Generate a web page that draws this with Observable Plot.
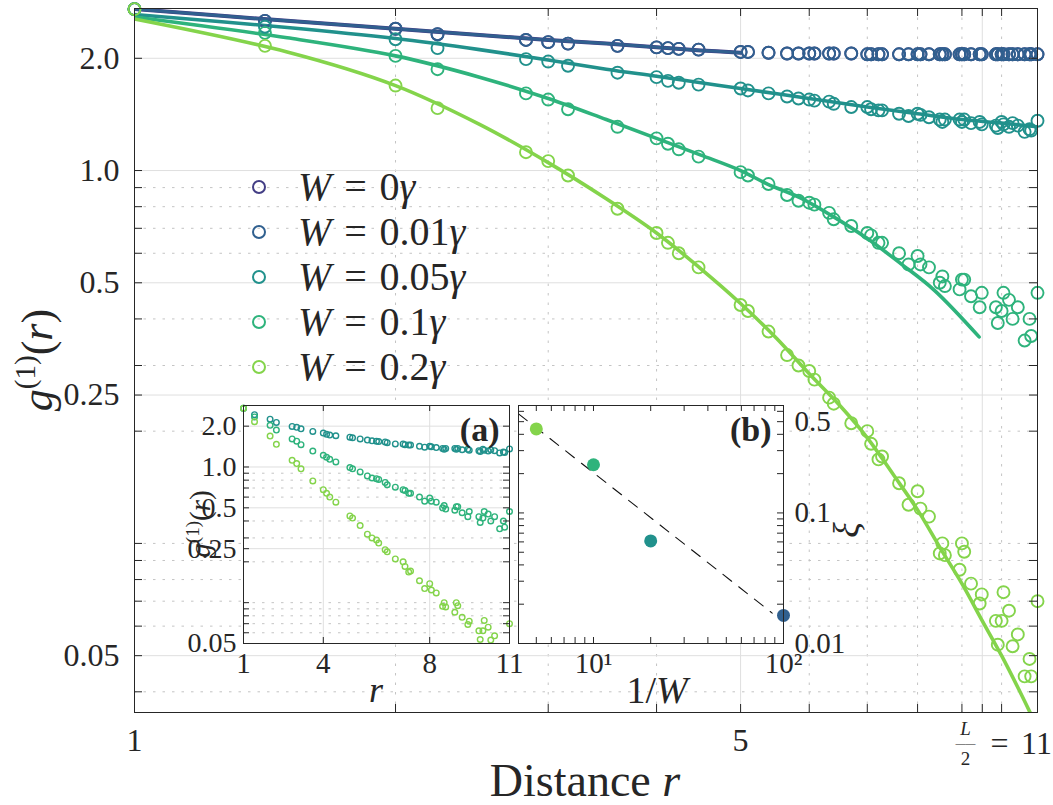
<!DOCTYPE html>
<html>
<head>
<meta charset="utf-8">
<script src="https://cdn.jsdelivr.net/npm/d3@7"></script>
<script src="https://cdn.jsdelivr.net/npm/@observablehq/plot@0.6"></script>
<style>
html,body{margin:0;padding:0;background:#fff;}
#wrap{position:relative;width:1053px;height:805px;overflow:hidden;font-family:"Liberation Serif","Times New Roman",serif;color:#262626;}
.abs{position:absolute;white-space:nowrap;line-height:1;}
.sup{font-size:0.66em;position:relative;top:-0.6em;}
.eq{margin:0 0.32em;}
</style>
</head>
<body>
<div id="wrap"></div>
<script>
// ---------------- DATA ----------------
const seriesNames  = ["0", "0.01", "0.05", "0.1", "0.2"];
const seriesColors = ["#433e85", "#30608f", "#21918c", "#2eb37c", "#84d44b"];

// lattice distances r
const rDist = [1, 1.414, 2, 2.236, 2.828, 3, 3.162, 3.606, 4, 4.123,
  4.243, 4.472, 5, 5.099, 5.385, 5.657, 5.831, 6, 6.083, 6.325,
  6.403, 6.708, 7, 7.071, 7.211, 7.280, 7.616, 7.810, 8, 8.062,
  8.246, 8.485, 8.544, 8.602, 8.944, 9, 9.055, 9.220, 9.434, 9.487,
  9.849, 9.899, 10, 10.050, 10.198, 10.296, 10.440, 10.630, 10.770, 10.817, 11];

const gW0 = [2.71, 2.52, 2.40, 2.32, 2.24, 2.21, 2.19, 2.16, 2.14, 2.13,
  2.12, 2.11, 2.08, 2.08, 2.07, 2.06, 2.06, 2.06, 2.06, 2.06,
  2.06, 2.06, 2.05, 2.05, 2.05, 2.05, 2.05, 2.05, 2.05, 2.05,
  2.05, 2.05, 2.05, 2.05, 2.05, 2.05, 2.05, 2.05, 2.05, 2.05,
  2.05, 2.05, 2.05, 2.05, 2.05, 2.05, 2.05, 2.05, 2.05, 2.05, 2.05];
const gW001 = [2.71, 2.52, 2.40, 2.32, 2.24, 2.21, 2.19, 2.16, 2.14, 2.13,
  2.12, 2.11, 2.08, 2.08, 2.07, 2.06, 2.06, 2.06, 2.06, 2.06,
  2.06, 2.06, 2.05, 2.05, 2.05, 2.05, 2.05, 2.05, 2.05, 2.05,
  2.05, 2.05, 2.05, 2.05, 2.05, 2.05, 2.05, 2.05, 2.05, 2.05,
  2.05, 2.05, 2.05, 2.05, 2.05, 2.05, 2.05, 2.05, 2.05, 2.05, 2.05];
const gW005 = [2.71, 2.43, 2.25, 2.13, 1.99, 1.96, 1.91, 1.83, 1.78, 1.74,
  1.72, 1.70, 1.66, 1.64, 1.61, 1.58, 1.56, 1.55, 1.54, 1.53,
  1.51, 1.48, 1.48, 1.46, 1.45, 1.45, 1.42, 1.40, 1.42, 1.41,
  1.39, 1.37, 1.35, 1.37, 1.37, 1.35, 1.37, 1.34, 1.35, 1.33,
  1.32, 1.30, 1.35, 1.33, 1.31, 1.34, 1.32, 1.27, 1.29, 1.28, 1.36];
const gW01 = [2.71, 2.34, 2.03, 1.87, 1.61, 1.55, 1.46, 1.31, 1.22, 1.18,
  1.14, 1.09, 0.99, 0.97, 0.92, 0.86, 0.83, 0.82, 0.81, 0.77,
  0.74, 0.71, 0.68, 0.67, 0.64, 0.64, 0.60, 0.56, 0.59, 0.56,
  0.55, 0.50, 0.52, 0.49, 0.48, 0.51, 0.51, 0.46, 0.43, 0.47,
  0.43, 0.39, 0.42, 0.47, 0.45, 0.40, 0.43, 0.35, 0.40, 0.36, 0.47];
const gW02 = [2.71, 2.16, 1.69, 1.47, 1.12, 1.06, 0.97, 0.79, 0.68, 0.64,
  0.60, 0.55, 0.436, 0.42, 0.37, 0.32, 0.30, 0.29, 0.275, 0.246,
  0.237, 0.21, 0.20, 0.185, 0.168, 0.171, 0.145, 0.127, 0.138, 0.124,
  0.118, 0.094, 0.100, 0.093, 0.085, 0.100, 0.095, 0.078, 0.069, 0.073,
  0.062, 0.0535, 0.062, 0.074, 0.066, 0.053, 0.057, 0.044, 0.049, 0.044, 0.070];

// fitted curves
const fitR_W0   = [1, 1.5, 2, 2.5, 3, 3.5, 4, 4.5, 5];
const fitG_W0   = [2.71, 2.52, 2.40, 2.31, 2.24, 2.19, 2.14, 2.10, 2.07];
const fitR_W001 = [1, 1.5, 2, 2.5, 3, 3.5, 4, 4.5, 5];
const fitG_W001 = [2.71, 2.52, 2.40, 2.31, 2.24, 2.19, 2.14, 2.10, 2.07];
const fitR_W005 = [1, 1.5, 2, 2.5, 3, 3.5, 4, 4.5, 5, 6, 7, 8, 9, 10, 11];
const fitG_W005 = [2.62, 2.42, 2.26, 2.11, 1.98, 1.87, 1.79, 1.72, 1.66, 1.56, 1.48, 1.42, 1.37, 1.34, 1.31];
const fitR_W01  = [1, 1.5, 2, 2.5, 3, 3.5, 4, 4.5, 5, 5.37, 5.86, 6.41, 7, 7.65, 8.36, 9.42];
const fitG_W01  = [2.58, 2.27, 2.03, 1.78, 1.56, 1.37, 1.22, 1.10, 1.0, 0.92, 0.845, 0.75, 0.657, 0.563, 0.478, 0.358];
const fitR_W02  = [1, 1.5, 2, 2.5, 3, 3.5, 4, 4.5, 5, 5.5, 6, 6.5, 7, 7.5, 8, 8.5, 9, 9.5, 10, 10.5, 11];
const fitG_W02  = [2.55, 2.08, 1.69, 1.33, 1.05, 0.84, 0.68, 0.545, 0.44, 0.355, 0.285, 0.235, 0.192, 0.153, 0.123, 0.097, 0.078, 0.062, 0.050, 0.040, 0.032];

// inset (b): correlation length vs 1/W
const xiSeries = ["0.2", "0.1", "0.05", "0.01"];
const invW     = [5, 10, 20, 100];
const xiVals   = [0.44, 0.234, 0.061, 0.0164];
const dashInvW = [4.03, 87.2];
const dashXi   = [0.574, 0.0171];

// ticks
const mainXTickVals   = [1, 5];
const mainXTickLabels = ["1", "5"];
const mainXLast       = [11];
const mainXMajorGrid  = [5, 9.5];
const mainXMinorGrid  = [2, 3, 4, 6, 7, 8, 9, 10];
const mainYTickVals   = [2, 1, 0.5, 0.25, 0.05];
const mainYTickLabels = ["2.0", "1.0", "0.5", "0.25", "0.05"];
const mainYMinorGrid  = [0.9, 0.8, 0.7, 0.6, 0.4, 0.3, 0.2, 0.1, 0.09, 0.08, 0.07, 0.06, 0.04];

const aXTicks = [1, 4, 8, 11];
const aXTickLabels = ["1", "4", "8", "11"];
const aYTickVals = [2, 1, 0.5, 0.25, 0.05];
const aYTickLabels = ["2.0", "1.0", "0.5", "0.25", "0.05"];
const aYMinor = [0.9, 0.8, 0.7, 0.6, 0.4, 0.3, 0.2, 0.1, 0.09, 0.08, 0.07, 0.06];

const bXTickVals = [10, 100];
const bXTickLabels = ["10\u00B9", "10\u00B2"];
const bXMinor = [5, 6, 7, 8, 9, 20, 30, 40, 50, 60, 70, 80, 90];
const bYTickVals = [0.5, 0.1, 0.01];
const bYTickLabels = ["0.5", "0.1", "0.01"];
const bYMinor = [0.6, 0.4, 0.3, 0.2, 0.09, 0.08, 0.07, 0.06, 0.05, 0.04, 0.03, 0.02];

// ---------------- TABLES ----------------
const gBySeries = [gW0, gW001, gW005, gW01, gW02];
const dotTable = seriesNames.flatMap((w, k) => rDist.map((r, i) => ({w, r, g: gBySeries[k][i]})));
const fitPairs = [[fitR_W0, fitG_W0], [fitR_W001, fitG_W001], [fitR_W005, fitG_W005], [fitR_W01, fitG_W01], [fitR_W02, fitG_W02]];
const fitTable = seriesNames.flatMap((w, k) => fitPairs[k][0].map((r, i) => ({w, r, g: fitPairs[k][1][i]})));
const insetATable = dotTable.filter(d => ["0.05", "0.1", "0.2"].includes(d.w));
const xiTable = xiSeries.map((w, i) => ({w, x: invW[i], xi: xiVals[i]}));
const dashTable = dashInvW.map((x, i) => ({x, xi: dashXi[i]}));

// ---------------- STYLE ----------------
const AX = "#262626";
const GRID = "#dfdfdf";
const GRIDDOT = "#c4c4c4";
const DOT = "2.5,7";
const FONT = "'Liberation Serif', 'Times New Roman', serif";
const color = {domain: seriesNames, range: seriesColors};
const fmt = (vals, labs) => d => labs[vals.findIndex(v => Math.abs(v - d) < 1e-9)];

function tickRules(xt, yt, w, h, len) {
  return [
    Plot.ruleX(xt, {x: d => d, insetTop: h - len, stroke: AX}),
    Plot.ruleX(xt, {x: d => d, insetBottom: h - len, stroke: AX}),
    Plot.ruleY(yt, {y: d => d, insetRight: w - len, stroke: AX}),
    Plot.ruleY(yt, {y: d => d, insetLeft: w - len, stroke: AX})
  ];
}

const wrap = document.getElementById("wrap");

// ---------------- MAIN ----------------
const M = {w: 1053, h: 805, l: 134, r: 16, t: 8, b: 93};
const mw = M.w - M.l - M.r, mh = M.h - M.t - M.b;
const line = (w, sw) => Plot.line(fitTable.filter(d => d.w === w), {x: "r", y: "g", stroke: "w", strokeWidth: sw, curve: "catmull-rom", clip: true});
const main = Plot.plot({
  width: M.w, height: M.h, marginLeft: M.l, marginRight: M.r, marginTop: M.t, marginBottom: M.b,
  style: {background: "transparent", fontFamily: FONT, color: AX, overflow: "visible"},
  x: {type: "log", domain: [1, 11]},
  y: {type: "log", domain: [0.0352, 2.72]},
  color,
  marks: [
    Plot.ruleX(mainXMinorGrid, {x: d => d, stroke: GRIDDOT, strokeDasharray: DOT}),
    Plot.ruleY(mainYMinorGrid, {y: d => d, stroke: GRIDDOT, strokeDasharray: DOT}),
    Plot.ruleX(mainXMajorGrid, {x: d => d, stroke: GRID}),
    Plot.ruleY(mainYTickVals, {y: d => d, stroke: GRID}),
    line("0", 4), line("0.01", 3), line("0.05", 3.6), line("0.1", 3.6), line("0.2", 3.6),
    Plot.dot(dotTable, {x: "r", y: "g", stroke: "w", r: 6, strokeWidth: 1.9, fill: "none"}),
    ...tickRules([2, 3, 4, 5, 6, 7, 8, 9, 9.5, 10], [...mainYTickVals, ...mainYMinorGrid], mw, mh, 8),
    Plot.frame({stroke: AX}),
    Plot.axisY({ticks: mainYTickVals, tickFormat: fmt(mainYTickVals, mainYTickLabels), tickSize: 0, tickPadding: 15, fontSize: 32, label: null}),
    Plot.axisX({ticks: mainXTickVals, tickFormat: fmt(mainXTickVals, mainXTickLabels), tickSize: 0, tickPadding: 16, fontSize: 32, label: null}),
    Plot.text(mainXLast, {x: d => d, text: d => String(d), frameAnchor: "bottom", dx: -1, dy: 31, fontSize: 32, lineAnchor: "middle"}),
    Plot.text(mainXLast, {x: d => d, text: () => "=", frameAnchor: "bottom", dx: -38, dy: 31, fontSize: 32, lineAnchor: "middle"}),
    Plot.text(mainXLast, {x: d => d, text: () => "L", frameAnchor: "bottom", dx: -72, dy: 16, fontSize: 19, fontStyle: "italic", lineAnchor: "middle"}),
    Plot.text(mainXLast, {x: d => d, text: () => "\u2014\u2014", frameAnchor: "bottom", dx: -72, dy: 31, fontSize: 10, lineAnchor: "middle"}),
    Plot.text(mainXLast, {x: d => d, text: () => "2", frameAnchor: "bottom", dx: -72, dy: 46.5, fontSize: 19, lineAnchor: "middle"})
  ]
});
main.style.position = "absolute"; main.style.left = "0px"; main.style.top = "0px";
wrap.appendChild(main);

// ---------------- INSET (a) ----------------
const A = {left: 150, top: 395, w: 370, h: 310, l: 93, r: 11, t: 10, b: 62};
const aw = A.w - A.l - A.r, ah = A.h - A.t - A.b;
const insetA = Plot.plot({
  width: A.w, height: A.h, marginLeft: A.l, marginRight: A.r, marginTop: A.t, marginBottom: A.b,
  style: {background: "transparent", fontFamily: FONT, color: AX, overflow: "visible"},
  x: {domain: [1, 11]},
  y: {type: "log", domain: [0.05, 2.84]},
  color,
  marks: [
    Plot.frame({fill: "white", stroke: "none"}),
    Plot.ruleY(aYMinor, {y: d => d, stroke: GRIDDOT, strokeDasharray: DOT}),
    Plot.ruleX([4, 8], {x: d => d, stroke: GRID}),
    Plot.ruleY([2, 1, 0.5, 0.25], {y: d => d, stroke: GRID}),
    Plot.dot(insetATable, {x: "r", y: "g", stroke: "w", r: 2.8, strokeWidth: 1.4, fill: "none", filter: d => d.g >= 0.05}),
    ...tickRules([4, 8], [...aYTickVals, ...aYMinor], aw, ah, 6),
    Plot.frame({stroke: AX}),
    Plot.axisY({ticks: aYTickVals, tickFormat: fmt(aYTickVals, aYTickLabels), tickSize: 0, tickPadding: 7, fontSize: 28, label: null}),
    Plot.axisX({ticks: aXTicks, tickFormat: fmt(aXTicks, aXTickLabels), tickSize: 0, tickPadding: 9, fontSize: 29, label: null}),
    Plot.text(["(a)"], {text: d => d, frameAnchor: "top-right", textAnchor: "end", dx: -10, dy: 25, fontSize: 34, fontWeight: "bold", lineAnchor: "middle"})
  ]
});
insetA.style.position = "absolute"; insetA.style.left = A.left + "px"; insetA.style.top = A.top + "px";
wrap.appendChild(insetA);

// ---------------- INSET (b) ----------------
const B = {left: 510, top: 395, w: 360, h: 310, l: 8, r: 87, t: 10, b: 62};
const bw = B.w - B.l - B.r, bh = B.h - B.t - B.b;
const insetB = Plot.plot({
  width: B.w, height: B.h, marginLeft: B.l, marginRight: B.r, marginTop: B.t, marginBottom: B.b,
  style: {background: "transparent", fontFamily: FONT, color: AX, overflow: "visible"},
  x: {type: "log", domain: [4.03, 100]},
  y: {type: "log", domain: [0.01, 0.665]},
  color,
  marks: [
    Plot.frame({fill: "white", stroke: "none"}),
    Plot.line(dashTable, {x: "x", y: "xi", stroke: "#111", strokeWidth: 1.1, strokeDasharray: "11,9"}),
    Plot.dot(xiTable, {x: "x", y: "xi", fill: "w", r: 6.5}),
    ...tickRules([...bXTickVals, ...bXMinor], [...bYTickVals, ...bYMinor], bw, bh, 6),
    Plot.frame({stroke: AX}),
    Plot.axisY({anchor: "right", ticks: bYTickVals, tickFormat: fmt(bYTickVals, bYTickLabels), tickSize: 0, tickPadding: 11, fontSize: 29, label: null}),
    Plot.axisX({ticks: bXTickVals, tickFormat: fmt(bXTickVals, bXTickLabels), tickSize: 0, tickPadding: 9, fontSize: 29, label: null}),
    Plot.text(["(b)"], {text: d => d, frameAnchor: "top-right", textAnchor: "end", dx: -12, dy: 25, fontSize: 34, fontWeight: "bold", lineAnchor: "middle"})
  ]
});
insetB.style.position = "absolute"; insetB.style.left = B.left + "px"; insetB.style.top = B.top + "px";
wrap.appendChild(insetB);

// ---------------- LABELS ----------------
function addLabel(html, x, y, size, rotate) {
  const d = document.createElement("div");
  d.className = "abs";
  d.style.left = x + "px"; d.style.top = y + "px"; d.style.fontSize = size + "px";
  d.style.transform = "translate(-50%,-50%)" + (rotate ? " rotate(-90deg)" : "");
  d.innerHTML = html;
  wrap.appendChild(d);
}
addLabel('Distance <i>r</i>', 585, 781, 46, false);
addLabel('<i>g</i><span class="sup">(1)</span>(<i>r</i>)', 38, 360, 44, true);
addLabel('<i>g</i><span class="sup">(1)</span>(<i>r</i>)', 200, 524, 29, true);
addLabel('<i>r</i>', 376, 690, 36, false);
addLabel('1/<i>W</i>', 657, 690, 38, false);
addLabel('<i>\u03BE</i>', 846, 530, 36, true);

// ---------------- LEGEND ----------------
seriesNames.forEach((n, i) => {
  const row = document.createElement("div");
  row.className = "abs";
  row.style.left = "249px";
  row.style.top = (187 + 45 * i) + "px";
  row.style.transform = "translateY(-50%)";
  row.style.display = "flex";
  row.style.alignItems = "center";
  row.style.fontSize = "40px";
  row.innerHTML = `<svg width="20" height="20" style="display:block"><circle cx="10" cy="10" r="6" fill="none" stroke="${seriesColors[i]}" stroke-width="2"/></svg>` +
    `<span style="margin-left:29px;line-height:1"><i>W</i><span class="eq">=</span>${n}<i>\u03B3</i></span>`;
  wrap.appendChild(row);
});
</script>
</body>
</html>
